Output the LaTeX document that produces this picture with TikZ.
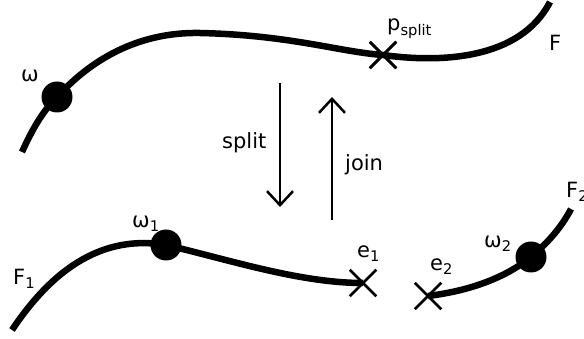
\documentclass[tikz,border=0pt]{standalone}
\usepackage{fontspec}
\setmainfont{DejaVu Sans}
\usetikzlibrary{arrows.meta,shapes.misc}

\begin{document}
\begin{tikzpicture}[x=1pt,y=-1pt,
  curve/.style={line width=6.5pt},
  dot/.style={circle,fill,inner sep=0pt,minimum size=31pt},
  cut/.style={cross out,draw,line width=2.5pt,inner sep=0pt,minimum size=24pt},
  lbl/.style={font=\fontsize{21}{24}\selectfont,inner sep=0pt,anchor=base west},
  move/.style={line width=2.5pt,-{Straight Barb[length=14pt,width=26pt,line width=2.5pt]}}]
\useasboundingbox (0,0) rectangle (584,339);

% the whole curve F
\coordinate (Fa) at (22,152);
\coordinate (Fb) at (550,2);
\node[cut] (p) at (383,55) {};
\node[dot] (w) at (57,97) {};
\draw[curve] (Fa) .. controls (32,130) and (42,112) .. (w.center)
  .. controls (100,50) and (150,32) .. (200,33)
  .. controls (290,35) and (340,52) .. (p.center)
  .. controls (440,63) and (520,60) .. (Fb);
\node[cut] at (p) {};

% the two pieces F1 and F2
\coordinate (F1a) at (12,330);
\coordinate (F2a) at (571,209);
\node[dot] (w1) at (166,245) {};
\node[dot] (w2) at (531,257) {};
\node[cut] (e1) at (363,283) {};
\node[cut] (e2) at (428,296) {};
\draw[curve] (F1a) .. controls (60,258) and (112,236) .. (w1.center)
  .. controls (230,260) and (300,283) .. (e1.center);
\draw[curve] (F2a) .. controls (560,230) and (545,245) .. (w2.center)
  .. controls (500,282) and (460,292) .. (e2.center);

% split / join arrows
\coordinate (sa) at (280,83);
\coordinate (sb) at (280,207);
\coordinate (ja) at (332,220);
\coordinate (jb) at (332,97);
\draw[move] (sa) -- (sb);
\draw[move] (ja) -- (jb);

% labels
\node[lbl] (lw) at (21,82) {ω};
\node[lbl] (lp) at (387,31) {p\textsubscript{split}};
\node[lbl] (lF) at (549,51) {F};
\node[lbl] (ls) at (222,149) {split};
\node[lbl] (lj) at (345,171) {join};
\node[lbl] (lw1) at (132,228) {ω\textsubscript{1}};
\node[lbl] (lF1) at (13,285) {F\textsubscript{1}};
\node[lbl] (le1) at (357,258) {e\textsubscript{1}};
\node[lbl] (le2) at (430,271) {e\textsubscript{2}};
\node[lbl] (lw2) at (484,248) {ω\textsubscript{2}};
\node[lbl] (lF2) at (566,198) {F\textsubscript{2}};
\end{tikzpicture}
\end{document}
